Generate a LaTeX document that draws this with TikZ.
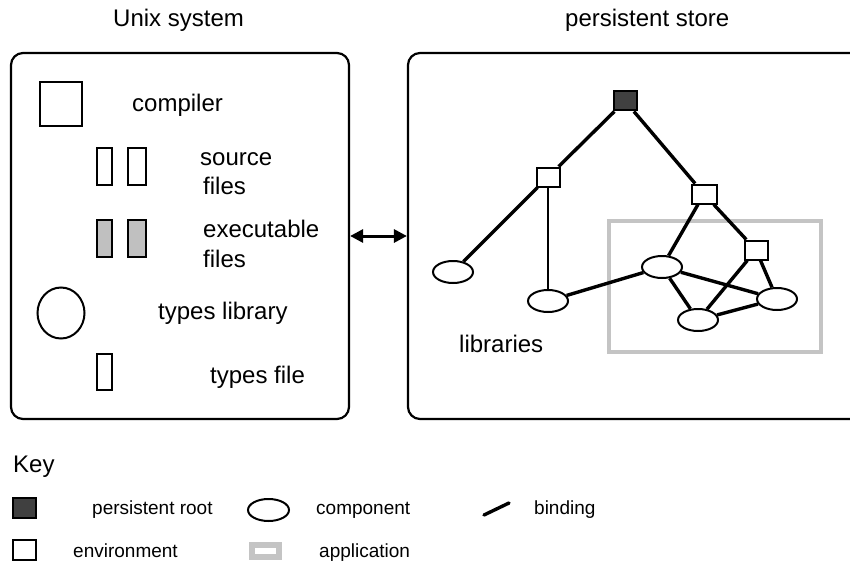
\documentclass[tikz,border=0pt]{standalone}
\usepackage{fontspec}
\setmainfont{Liberation Sans}
\usetikzlibrary{shapes.geometric,arrows.meta}
\definecolor{rootgray}{HTML}{404040}
\definecolor{filegray}{HTML}{C0C0C0}
\definecolor{appgray}{HTML}{C4C4C4}
\newcommand\mainfnt{\fontsize{24}{28}\selectfont}
\newcommand\keyfnt{\fontsize{19}{22}\selectfont}

\begin{document}
\begin{tikzpicture}[x=1pt,y=-1pt,
   panel/.style={draw,line width=2.2pt,rounded corners=12pt,inner sep=0pt},
   env/.style={draw,fill=white,line width=2pt,minimum width=23pt,minimum height=19pt,inner sep=0pt},
   root/.style={env,fill=rootgray},
   comp/.style={ellipse,draw,fill=white,line width=2pt,minimum width=40pt,minimum height=22pt,inner sep=0pt},
   srcfile/.style={draw,line width=2pt,minimum width=15pt,minimum height=37pt,inner sep=0pt},
   exefile/.style={srcfile,fill=filegray},
   binding/.style={line width=3.4pt},
   txt/.style={font=\mainfnt,anchor=base west,inner sep=0pt},
   keytxt/.style={font=\keyfnt,anchor=base west,inner sep=0pt}]
   \useasboundingbox (0,0) rectangle (850,564);
   \clip (0,0) rectangle (850,564);

   % the two panels
   \node[panel,minimum width=338pt,minimum height=366pt] (unix) at (180,236) {};
   \node[panel,minimum width=482pt,minimum height=366pt] (store) at (649,236) {};
   \node[txt] (unixtitle) at (113,27) {Unix system};
   \node[txt] (storetitle) at (565,27) {persistent store};
   \draw[line width=3pt,{Triangle[length=13pt,width=13pt]}-{Triangle[length=13pt,width=13pt]}]
     (unix.east) -- (store.west);

   % unix side
   \node[draw,line width=2pt,minimum width=42pt,minimum height=44pt,inner sep=0pt] (compiler) at (61,104) {};
   \node[txt] (compilertxt) at (132,112) {compiler};
   \node[srcfile] (srcA) at (104,166.5) {};
   \node[srcfile,minimum width=18pt] (srcB) at (137,166.5) {};
   \node[txt] (srctxt) at (200,165) {source};
   \node[txt] (srctxtb) at (203,194) {files};
   \node[exefile] (exeA) at (104,238.5) {};
   \node[exefile,minimum width=18pt] (exeB) at (137,238.5) {};
   \node[txt] (exetxt) at (203,237) {executable};
   \node[txt] (exetxtb) at (203,267) {files};
   \node[ellipse,draw,line width=2pt,minimum width=47pt,minimum height=51pt,inner sep=0pt] (typeslib) at (61,313) {};
   \node[txt] (typeslibtxt) at (158,319) {types library};
   \node[srcfile,minimum height=36pt] (typesfile) at (104.5,372) {};
   \node[txt] (typesfiletxt) at (210,383) {types file};

   % store side
   \node[draw=appgray,line width=4pt,minimum width=212pt,minimum height=131pt,inner sep=0pt] (app) at (715,286.5) {};
   \node[root] (top) at (625,101) {};
   \node[env] (envL) at (548,177) {};
   \node[env,minimum width=25pt] (envR) at (704,194) {};
   \node[env] (envS) at (756,250) {};
   \node[comp] (libA) at (453,272) {};
   \node[comp] (libB) at (548,301) {};
   \node[comp] (appA) at (662,267) {};
   \node[comp] (appB) at (777,299) {};
   \node[comp] (appC) at (698,320) {};
   \node[txt] (libtxt) at (459,352) {libraries};
   \draw[binding] (top) -- (envL);
   \draw[binding] (top) -- (envR);
   \draw[binding] (envL) -- (libA);
   \draw[line width=2.2pt] (envL) -- (libB);
   \draw[binding] (libB) -- (appA);
   \draw[binding] (envR) -- (appA);
   \draw[binding] (envR) -- (envS);
   \draw[binding] (envS) -- (appC);
   \draw[binding] (envS) -- (appB);
   \draw[binding] (appA) -- (appB);
   \draw[binding] (appA) -- (appC);
   \draw[binding] (appC) -- (appB);

   % key
   \node[txt] (keytitle) at (13,472) {Key};
   \node[root,minimum width=23pt,minimum height=20pt] (keyroot) at (24.5,508) {};
   \node[keytxt] (keyroottxt) at (92,514) {persistent root};
   \node[comp,minimum width=41pt] (keycomp) at (268.5,510) {};
   \node[keytxt] (keycomptxt) at (316,514) {component};
   \coordinate (bindA) at (484,515);
   \coordinate (bindB) at (509,503);
   \draw[binding,line cap=round] (bindA) -- (bindB);
   \node[keytxt] (keybindtxt) at (534,514) {binding};
   \node[env,minimum width=23pt,minimum height=20pt] (keyenv) at (24.5,550) {};
   \node[keytxt] (keyenvtxt) at (73,557) {environment};
   \node[draw=appgray,line width=6pt,minimum width=27pt,minimum height=12pt,inner sep=0pt] (keyapp) at (265.5,551) {};
   \node[keytxt] (keyapptxt) at (319,557) {application};
\end{tikzpicture}
\end{document}
